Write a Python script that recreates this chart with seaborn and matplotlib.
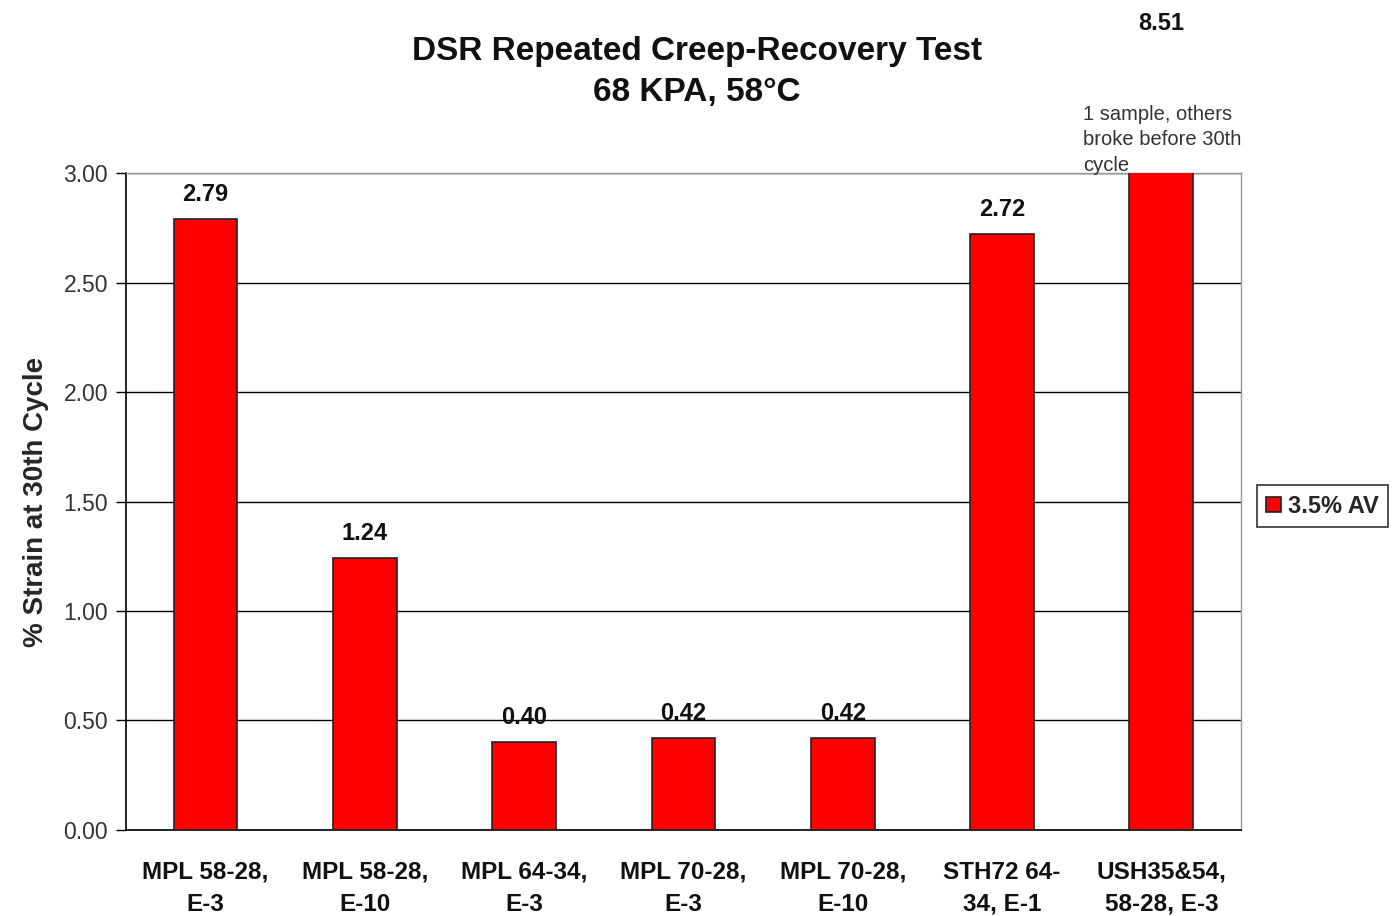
import pandas as pd
import matplotlib.pyplot as plt
import seaborn as sns

categories = ['MPL 58-28,\nE-3', 'MPL 58-28,\nE-10', 'MPL 64-34,\nE-3', 'MPL 70-28,\nE-3',
              'MPL 70-28,\nE-10', 'STH72 64-\n34, E-1', 'USH35&54,\n58-28, E-3']
strain = [2.79, 1.24, 0.40, 0.42, 0.42, 2.72, 8.51]
series_name = '3.5% AV'
y_ticks = [0.0, 0.5, 1.0, 1.5, 2.0, 2.5, 3.0]

df = pd.DataFrame({'binder': categories, 'strain': strain, 'series': series_name})

sns.set_style('white')
plt.rcParams['font.family'] = ['Liberation Sans', 'DejaVu Sans']

fig = plt.figure(figsize=(14, 9.16), dpi=100)
ax = fig.add_axes([0.09, 0.0939, 0.7964, 0.7172])

sns.barplot(data=df, x='binder', y='strain', hue='series', palette=['#ff0000'],
            saturation=1, width=0.4, edgecolor='#222222', linewidth=1.2, ax=ax, zorder=3)

ax.set_ylim(0, 3.0)
ax.set_xlim(-0.5, len(categories) - 0.5)
ax.set_yticks(y_ticks)
ax.set_yticklabels([f'{v:.2f}' for v in y_ticks], fontsize=16.5, color='#333333')
ax.yaxis.grid(True, color='black', linewidth=1.0, zorder=0)
ax.set_axisbelow(True)

# ticks on category boundaries
ax.set_xticks(range(len(categories)))
ax.set_xticklabels(categories, fontsize=17.5, fontweight='bold', color='#111111',
                   linespacing=1.5)
ax.tick_params(axis='x', length=0, pad=22)
ax.set_xticks([i - 0.5 for i in range(len(categories) + 1)], minor=True)
ax.tick_params(axis='x', which='minor', length=7, width=1, color='black', direction='out')
ax.tick_params(axis='y', length=7, width=1, color='black', direction='out', left=True, pad=6)

for side in ['left', 'bottom']:
    ax.spines[side].set_color('black')
    ax.spines[side].set_linewidth(1.2)
for side in ['top', 'right']:
    ax.spines[side].set_color('#999999')
    ax.spines[side].set_linewidth(1.0)

ax.set_xlabel('')
ax.set_ylabel('% Strain at 30th Cycle', fontsize=20, fontweight='bold', labelpad=10)

# value labels
for i, v in enumerate(strain):
    if v <= 3.0:
        ax.text(i, v + 0.06, f'{v:.2f}', ha='center', va='bottom', fontsize=17,
                fontweight='bold', color='#111111')
    else:
        ax.annotate(f'{v:.2f}', xy=(i, 3.0), xytext=(i, 3.63), textcoords='data',
                    ha='center', va='bottom', fontsize=17, fontweight='bold',
                    color='#111111', annotation_clip=False)
        ax.text(i - 0.49, 2.99, '1 sample, others\nbroke before 30th\ncycle', ha='left',
                va='bottom', fontsize=14.5, color='#333333', linespacing=1.45, clip_on=False)

fig.text(0.498, 0.921, 'DSR Repeated Creep-Recovery Test\n68 KPA, 58\u00b0C', ha='center',
         va='center', fontsize=24, fontweight='bold', color='#111111', linespacing=1.42)

leg = ax.legend(loc='center left', bbox_to_anchor=(1.0143, 0.493), frameon=True,
                borderaxespad=0, fancybox=False, edgecolor='black', fontsize=17,
                handlelength=0.6, handleheight=0.6, handletextpad=0.3, borderpad=0.4)
leg.get_frame().set_linewidth(1.2)
for t in leg.get_texts():
    t.set_fontweight('bold')

fig.savefig('out.png', dpi=100)
